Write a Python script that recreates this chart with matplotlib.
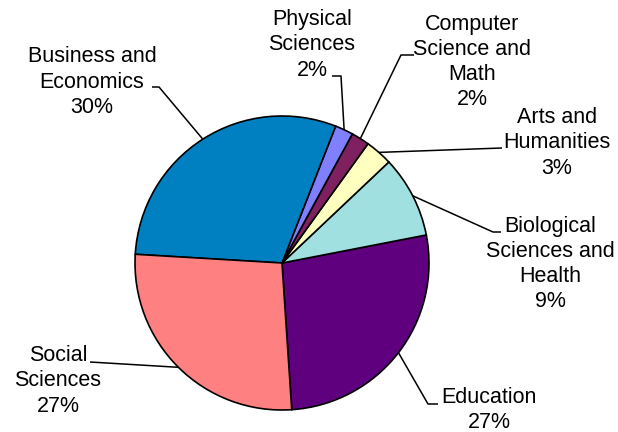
import numpy as np
import matplotlib.pyplot as plt

plt.rcParams['font.family'] = ['Liberation Sans', 'DejaVu Sans']

# majors in counter-clockwise order, starting at the bottom
majors = ['Education', 'Biological\nSciences and\nHealth', 'Arts and\nHumanities',
          'Computer\nScience and\nMath', 'Physical\nSciences', 'Business and\nEconomics',
          'Social\nSciences']
shares = [27, 9, 3, 2, 2, 30, 27]
colors = ['#5f007f', '#a0e0e0', '#ffffc0', '#7f2060', '#8080ff', '#0080c0', '#ff8080']

# label block centre, elbow and end of the leader line (pixels, y down)
label_pos = [(489, 410), (550, 264), (557, 143), (472, 62), (312, 45), (92, 82), (58, 381)]
elbows = [(428, 404), (493, 232), (502, 148), (401, 55), (341, 76), (159, 87), (90, 362)]
ends = [(438, 404), (501, 232), (502, 148), (414, 55), (332, 76), (152, 87), (90, 362)]

W, H = 618, 432
cx, cy, r = 282, 263, 147

fig = plt.figure(figsize=(6.18, 4.32), dpi=100)
ax = fig.add_axes([0, 0, 1, 1])

wedges, _ = ax.pie(shares, colors=colors, startangle=-86.2, counterclock=True,
                   center=(cx, H - cy), radius=r, frame=True,
                   wedgeprops=dict(edgecolor='black', linewidth=1.2))
ax.set_xlim(0, W)
ax.set_ylim(0, H)
ax.axis('off')

for w, name, val, (tx, ty), (ex, ey), (lx, ly) in zip(wedges, majors, shares,
                                                       label_pos, elbows, ends):
    mid = np.deg2rad((w.theta1 + w.theta2) / 2)
    px = cx + r * np.cos(mid)
    py = (H - cy) + r * np.sin(mid)
    ax.plot([px, ex, lx], [py, H - ey, H - ly], color='black', lw=1.1,
            solid_capstyle='butt', zorder=1)
    ax.text(tx, H - ty, f'{name}\n{val}%', ha='center', va='center',
            multialignment='center', fontsize=15.5, color='black',
            linespacing=1.27)

fig.savefig('out.png', dpi=100)
